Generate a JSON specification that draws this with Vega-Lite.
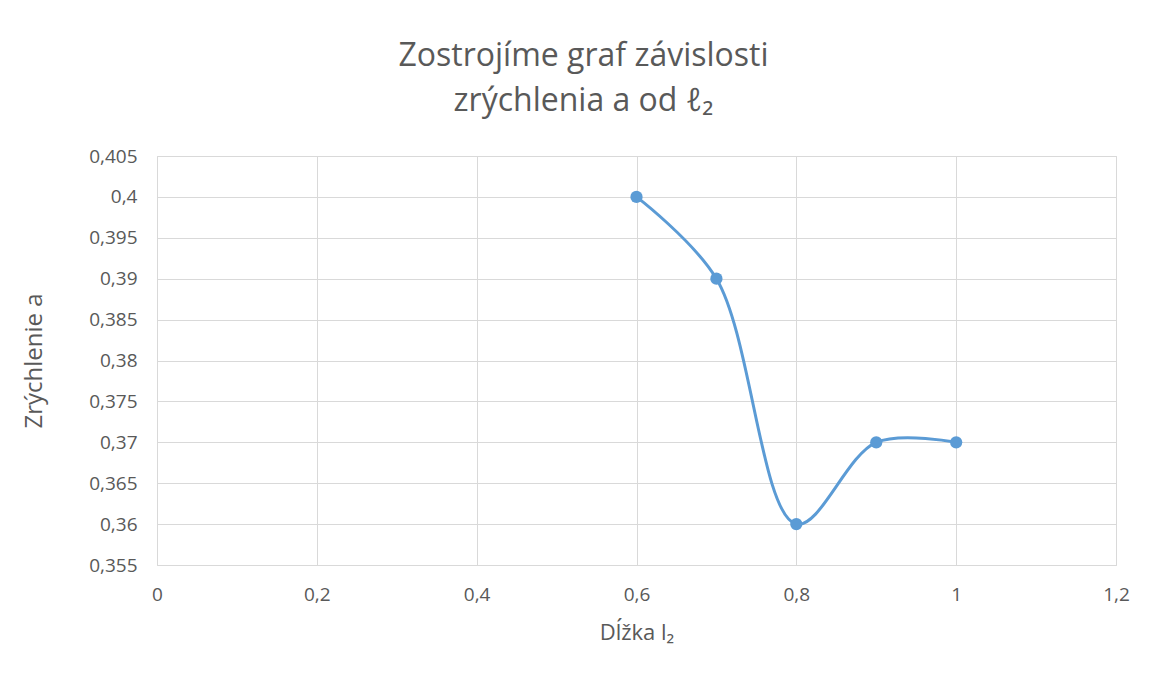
{
  "$schema": "https://vega.github.io/schema/vega-lite/v6.json",
  "autosize": "none",
  "width": 959,
  "height": 409,
  "padding": {"left": 157, "top": 156, "right": 41, "bottom": 112},
  "background": "white",
  "title": {
    "text": ["Zostrojíme graf závislosti", "zrýchlenia a od ℓ₂"],
    "anchor": "middle",
    "frame": "group",
    "dx": -53,
    "offset": 29,
    "fontSize": 32,
    "font": "Open Sans",
    "fontWeight": "normal",
    "color": "#595959",
    "lineHeight": 45
  },
  "data": {
    "values": [
      {"l": 0.6, "a": 0.4},
      {"l": 0.7, "a": 0.39},
      {"l": 0.8, "a": 0.36},
      {"l": 0.9, "a": 0.37},
      {"l": 1.0, "a": 0.37}
    ]
  },
  "encoding": {
    "x": {
      "field": "l",
      "type": "quantitative",
      "scale": {"domain": [0, 1.2], "nice": false, "zero": false},
      "axis": {"values": [0, 0.2, 0.4, 0.6, 0.8, 1, 1.2], "format": ".1~f", "title": "Dĺžka l₂", "titlePadding": 18, "labelPadding": 20, "titleFontSize": 22, "labelFlush": false}
    },
    "y": {
      "field": "a",
      "type": "quantitative",
      "scale": {"domain": [0.355, 0.405], "nice": false, "zero": false},
      "axis": {"values": [0.355, 0.36, 0.365, 0.37, 0.375, 0.38, 0.385, 0.39, 0.395, 0.4, 0.405], "format": ".3~f", "title": "Zrýchlenie a", "titlePadding": 42, "labelPadding": 20, "titleFontSize": 24, "labelFlush": false}
    }
  },
  "layer": [
    {"mark": {"type": "line", "interpolate": "catmull-rom", "color": "#5B9BD5", "strokeWidth": 3}},
    {"mark": {"type": "point", "filled": true, "color": "#5B9BD5", "opacity": 1, "size": 150}}
  ],
  "config": {
    "locale": {"number": {"decimal": ",", "thousands": " ", "grouping": [3], "currency": ["", ""]}},
    "view": {"stroke": "#D9D9D9", "strokeWidth": 1},
    "axis": {
      "grid": true,
      "gridColor": "#D9D9D9",
      "gridWidth": 1,
      "domain": false,
      "ticks": false,
      "labelFont": "Open Sans",
      "labelFontSize": 19,
      "labelColor": "#595959",
      "titleFont": "Open Sans",
      "titleFontWeight": "normal",
      "titleColor": "#595959"
    }
  }
}
